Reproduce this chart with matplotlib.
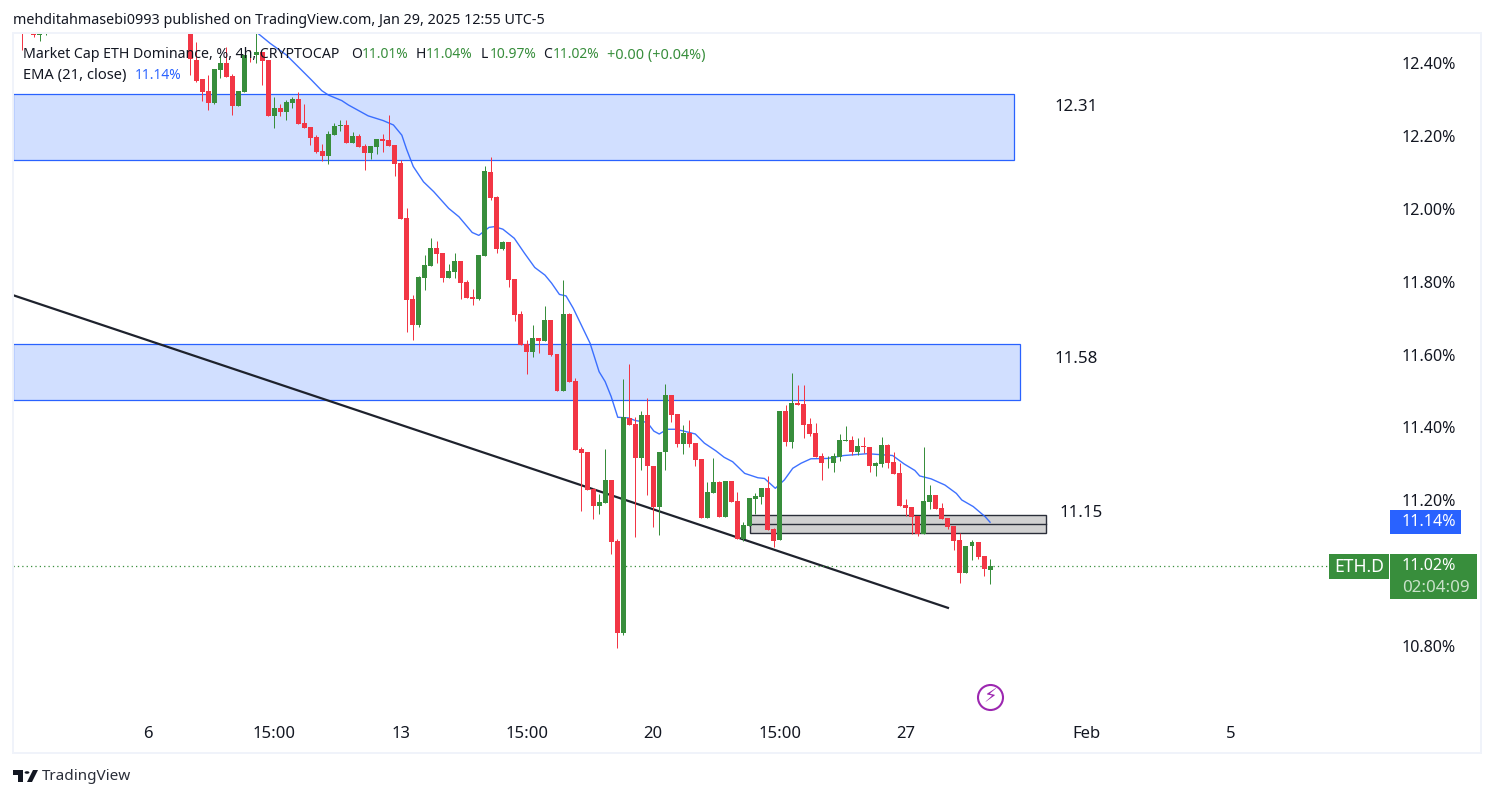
"""ETH.D 4h chart, TradingView look: candles, EMA 21, zones and a trendline."""
import matplotlib
matplotlib.use("Agg")
import matplotlib.pyplot as plt
from matplotlib.patches import Circle, Polygon, Rectangle
import numpy as np

W, H = 1494, 798
FONT = "Noto Sans"
TXT = "#131722"
RED, GREEN, BLUE = "#f23645", "#388e3c", "#2962ff"
ZONE = "#d1dfff"

# bar number: 0 is Jan 6 00:00, six 4h bars per day
BARS = [-21, -19, -18, -17] + list(range(7, 141))
OPEN = [12.52, 12.483, 12.478, 12.49,
        12.55, 12.408, 12.356, 12.323, 12.290, 12.382, 12.400, 12.364, 12.282, 12.320,
        12.426, 12.422, 12.430, 12.408, 12.255, 12.277, 12.266, 12.290, 12.301, 12.235,
        12.224, 12.197, 12.159, 12.145, 12.202, 12.227, 12.230, 12.180, 12.200, 12.172,
        12.153, 12.170, 12.191, 12.189, 12.175, 12.126, 11.975, 11.753, 11.681, 11.810,
        11.843, 11.892, 11.879, 11.810, 11.827, 11.857, 11.799, 11.758, 11.753, 11.871,
        12.101, 12.032, 11.890, 11.909, 11.807, 11.711, 11.629, 11.607, 11.646, 11.637,
        11.695, 11.602, 11.500, 11.711, 11.528, 11.341, 11.333, 11.231, 11.185, 11.193,
        11.256, 11.089, 10.836, 11.426, 11.410, 11.316, 11.434, 11.294, 11.182, 11.333,
        11.489, 11.437, 11.355, 11.385, 11.358, 11.314, 11.152, 11.220, 11.251, 11.154,
        11.253, 11.198, 11.094, 11.130, 11.204, 11.209, 11.234, 11.122, 11.091, 11.445,
        11.360, 11.467, 11.465, 11.410, 11.385, 11.322, 11.304, 11.303, 11.319, 11.363,
        11.366, 11.333, 11.349, 11.347, 11.294, 11.300, 11.352, 11.305, 11.275, 11.187,
        11.182, 11.157, 11.108, 11.196, 11.215, 11.179, 11.152, 11.130, 11.091, 11.001,
        11.075, 11.086, 11.048, 11.010]
HIGH = [12.53, 12.49, 12.49, 12.51,
        12.56, 12.457, 12.356, 12.367, 12.384, 12.422, 12.444, 12.370, 12.323, 12.422,
        12.437, 12.481, 12.430, 12.408, 12.307, 12.288, 12.298, 12.307, 12.320, 12.288,
        12.224, 12.202, 12.178, 12.213, 12.235, 12.244, 12.244, 12.211, 12.205, 12.178,
        12.172, 12.191, 12.205, 12.257, 12.175, 12.134, 12.002, 11.764, 11.816, 11.873,
        11.920, 11.912, 11.879, 11.849, 11.879, 11.857, 11.805, 11.780, 11.873, 12.117,
        12.142, 12.035, 11.912, 11.909, 11.807, 11.720, 11.640, 11.681, 11.646, 11.733,
        11.695, 11.602, 11.805, 11.714, 11.535, 11.347, 11.333, 11.234, 11.218, 11.341,
        11.256, 11.094, 11.533, 11.574, 11.429, 11.445, 11.481, 11.294, 11.333, 11.519,
        11.489, 11.437, 11.407, 11.421, 11.358, 11.314, 11.251, 11.316, 11.253, 11.253,
        11.253, 11.223, 11.141, 11.207, 11.220, 11.234, 11.267, 11.124, 11.445, 11.462,
        11.550, 11.517, 11.517, 11.426, 11.412, 11.330, 11.322, 11.330, 11.382, 11.404,
        11.377, 11.371, 11.374, 11.347, 11.305, 11.374, 11.355, 11.333, 11.303, 11.204,
        11.182, 11.157, 11.347, 11.242, 11.215, 11.193, 11.152, 11.130, 11.111, 11.075,
        11.091, 11.086, 11.048, 11.040]
LOW = [12.436, 12.472, 12.460, 12.477,
       12.367, 12.349, 12.296, 12.271, 12.288, 12.360, 12.362, 12.257, 12.282, 12.320,
       12.402, 12.401, 12.340, 12.255, 12.222, 12.255, 12.244, 12.277, 12.233, 12.222,
       12.175, 12.152, 12.131, 12.123, 12.202, 12.213, 12.180, 12.180, 12.170, 12.106,
       12.137, 12.150, 12.156, 12.172, 12.091, 11.972, 11.662, 11.640, 11.676, 11.777,
       11.843, 11.851, 11.799, 11.810, 11.810, 11.753, 11.755, 11.736, 11.750, 11.871,
       12.024, 11.879, 11.887, 11.785, 11.692, 11.626, 11.547, 11.593, 11.604, 11.637,
       11.596, 11.500, 11.500, 11.525, 11.338, 11.171, 11.229, 11.149, 11.163, 11.193,
       11.053, 10.795, 10.831, 11.407, 11.100, 11.283, 11.215, 11.127, 11.105, 11.283,
       11.415, 11.347, 11.327, 11.347, 11.294, 11.152, 11.152, 11.220, 11.154, 11.154,
       11.196, 11.094, 11.089, 11.130, 11.163, 11.190, 11.119, 11.072, 11.091, 11.349,
       11.344, 11.462, 11.371, 11.377, 11.319, 11.256, 11.289, 11.278, 11.308, 11.363,
       11.325, 11.325, 11.330, 11.278, 11.267, 11.292, 11.289, 11.272, 11.185, 11.157,
       11.108, 11.102, 11.108, 11.176, 11.176, 11.149, 11.122, 11.064, 10.973, 11.001,
       11.036, 11.039, 10.993, 10.970]
CLOSE = [12.50, 12.478, 12.484, 12.50,
         12.410, 12.351, 12.321, 12.290, 12.384, 12.400, 12.362, 12.282, 12.323, 12.422,
         12.424, 12.430, 12.405, 12.255, 12.277, 12.266, 12.293, 12.302, 12.233, 12.222,
         12.194, 12.156, 12.145, 12.205, 12.227, 12.230, 12.180, 12.200, 12.170, 12.153,
         12.172, 12.191, 12.186, 12.172, 12.124, 11.972, 11.750, 11.681, 11.813, 11.846,
         11.892, 11.876, 11.810, 11.829, 11.857, 11.796, 11.755, 11.753, 11.873, 12.104,
         12.030, 11.890, 11.909, 11.805, 11.709, 11.626, 11.607, 11.646, 11.637, 11.695,
         11.599, 11.500, 11.711, 11.525, 11.338, 11.330, 11.229, 11.185, 11.196, 11.256,
         11.086, 10.836, 11.428, 11.407, 11.316, 11.434, 11.294, 11.182, 11.333, 11.489,
         11.434, 11.355, 11.385, 11.355, 11.311, 11.152, 11.223, 11.251, 11.154, 11.253,
         11.196, 11.094, 11.133, 11.207, 11.212, 11.234, 11.119, 11.089, 11.445, 11.360,
         11.467, 11.462, 11.407, 11.382, 11.319, 11.303, 11.305, 11.322, 11.366, 11.366,
         11.333, 11.349, 11.347, 11.294, 11.303, 11.352, 11.303, 11.272, 11.185, 11.179,
         11.154, 11.108, 11.198, 11.215, 11.176, 11.149, 11.127, 11.089, 11.001, 11.075,
         11.086, 11.045, 11.012, 11.020]

EMA_X = [18.3, 20.3, 23, 25.5, 27.2, 28.9, 30, 32.2, 33.3, 36.6, 39.1, 40.8, 42.2, 43,
         44.1, 45.8, 47.5, 50, 51.7, 53.9, 55, 56.7, 57.6, 59, 60.9, 62.6, 64.3, 66,
         67.1, 68.4, 69.5, 70.7, 73.5, 75, 76, 77, 78.1, 79.9, 81, 83, 84.1, 85, 86.3,
         87.7, 89.1, 91, 92.5, 94.4, 95.8, 97.2, 99.2, 101.4, 102.5, 104.3, 105.8,
         107.2, 108.6, 110.2, 113, 115.7, 119.6, 123.8, 125.7, 127.5, 128.3, 130.2,
         132.5, 134.4, 135.3, 137.2, 139.2, 140]
EMA = [12.481, 12.454, 12.422, 12.381, 12.353, 12.324, 12.312, 12.297, 12.285, 12.255,
       12.242, 12.230, 12.202, 12.163, 12.116, 12.074, 12.047, 12.001, 11.978, 11.935,
       11.927, 11.949, 11.951, 11.944, 11.919, 11.878, 11.839, 11.818, 11.796, 11.765,
       11.761, 11.727, 11.631, 11.553, 11.526, 11.485, 11.428, 11.426, 11.419, 11.414,
       11.390, 11.382, 11.395, 11.395, 11.390, 11.382, 11.357, 11.336, 11.318, 11.306,
       11.274, 11.262, 11.260, 11.233, 11.256, 11.288, 11.302, 11.314, 11.315, 11.323,
       11.328, 11.323, 11.300, 11.282, 11.267, 11.259, 11.242, 11.219, 11.201, 11.183,
       11.155, 11.140]

TREND_X = [-22.45, 133]
TREND_Y = [11.763, 10.905]
UPPER_ZONE = (12.135, 12.314)
LOWER_ZONE = (11.474, 11.628)
GRAY_ZONE = (11.110, 11.135, 11.160)
LAST_PRICE = 11.02

PRICE_TICKS = [12.40, 12.20, 12.00, 11.80, 11.60, 11.40, 11.20, 10.80]
TIME_TICKS = [0, 21, 42, 63, 84, 105, 126, 156, 180]
TIME_LABELS = ["6", "15:00", "13", "15:00", "20", "15:00", "27", "Feb", "5"]


def fx(x):
    return x / W


def fy(y):
    return 1 - y / H


def label(fig, x, y, s, color=TXT, size=10, **kw):
    fig.text(fx(x), fy(y), s, color=color, fontsize=size, family=FONT,
             va="center", **kw)


def box(fig, x0, y0, x1, y1, color):
    fig.patches.append(Rectangle((fx(x0), fy(y1)), fx(x1 - x0), (y1 - y0) / H,
                                 transform=fig.transFigure, facecolor=color,
                                 edgecolor="none", zorder=3))


def main():
    fig = plt.figure(figsize=(W / 100, H / 100), dpi=100, facecolor="white")
    # plot pane, its frame is drawn on the figure
    fig.patches.append(Rectangle((fx(13), fy(753)), fx(1468), 720 / H,
                                 transform=fig.transFigure, facecolor="none",
                                 edgecolor="#f0f3fa", lw=1.4))
    ax = fig.add_axes([fx(13), fy(715), fx(1377), (715 - 34) / H])
    ax.set_xlim(-22.45, 206.5)
    ax.set_ylim(10.611, 12.4796)
    for s in ax.spines.values():
        s.set_visible(False)
    ax.patch.set_alpha(0)

    o, h, l, c = map(np.array, (OPEN, HIGH, LOW, CLOSE))
    colors = np.where(c >= o, GREEN, RED)

    # zones and drawings under the candles
    left = ax.get_xlim()[0]
    for (lo, hi), right in zip((UPPER_ZONE, LOWER_ZONE), (144, 145)):
        ax.add_patch(Rectangle((left, lo), right - left, hi - lo, facecolor=ZONE,
                               edgecolor=BLUE, lw=0.9, zorder=1))
    g0, g1, g2 = GRAY_ZONE
    ax.add_patch(Rectangle((100.1, g0), 49.2, g2 - g0, facecolor="#d1d1d1",
                           edgecolor="#2a2e39", lw=1.0, zorder=1))
    ax.plot([100.1, 149.3], [g1, g1], color="#2a2e39", lw=1.0, zorder=1.1)
    ax.plot(TREND_X, TREND_Y, color="#1e222d", lw=1.6, zorder=1.2)
    ax.plot(EMA_X, EMA, color=BLUE, lw=1.0, alpha=0.9, zorder=1.3)
    ax.plot([left, 196.4], [LAST_PRICE, LAST_PRICE], color=GREEN, lw=0.9,
            ls=(0, (1, 2.5)), zorder=1.4)

    wicks = ax.vlines(BARS, l, h, colors=colors, lw=0.72, zorder=2)
    wicks.set_snap(True)
    ax.bar(BARS, np.abs(c - o), bottom=np.minimum(o, c), width=0.83, color=colors,
           lw=0, zorder=2.1)

    ax.yaxis.tick_right()
    ax.set_yticks(PRICE_TICKS, [f"{p:.2f}%" for p in PRICE_TICKS])
    ax.set_xticks(TIME_TICKS, TIME_LABELS)
    ax.tick_params(axis="y", length=0, pad=8.6, labelsize=11.6, labelcolor=TXT)
    ax.tick_params(axis="x", length=0, pad=8.0, labelsize=12, labelcolor=TXT)
    for t in ax.get_xticklabels() + ax.get_yticklabels():
        t.set_family(FONT)

    # levels written on the chart
    for x, y, s in ((150.65, 12.279, "12.31"), (150.65, 11.587, "11.58"),
                    (151.6, 11.166, "11.15")):
        ax.text(x, y, s, color=TXT, fontsize=12.2, family=FONT, va="center")

    # lightning badge
    ax.plot([140], [10.661], "o", ms=18, mfc="white", mec="#9c27b0", mew=1.5, zorder=3)
    ax.text(140, 10.661, "\u26a1", color="#9c27b0", fontsize=14, family="DejaVu Sans",
            ha="center", va="center", zorder=4)

    # header and legend lines
    label(fig, 13, 20.5, "mehditahmasebi0993 published on TradingView.com, "
          "Jan 29, 2025 12:55 UTC-5", size=10.3)
    label(fig, 23, 55, "Market Cap ETH Dominance, %, 4h, CRYPTOCAP", size=10.2)
    for x, s, col, size in ((351, "O", TXT, 10), (362, "11.01%", GREEN, 10),
                            (416, "H", TXT, 10), (426, "11.04%", GREEN, 10),
                            (481, "L", TXT, 10), (490, "10.97%", GREEN, 10),
                            (543, "C", TXT, 10), (553, "11.02%", GREEN, 10),
                            (607, "+0.00 (+0.04%)", GREEN, 10.4)):
        label(fig, x, 55, s, color=col, size=size)
    label(fig, 23, 75.5, "EMA (21, close)", size=10.6)
    label(fig, 135, 75.5, "11.14%", color=BLUE, size=10)

    # price scale labels
    box(fig, 1390, 510, 1461, 534, BLUE)
    label(fig, 1402, 522.5, "11.14%", color="white", size=11.6, zorder=4)
    box(fig, 1329, 554, 1389, 579, GREEN)
    label(fig, 1334, 567.5, "ETH.D", color="white", size=12.6, zorder=4)
    box(fig, 1390, 554, 1477, 599, GREEN)
    label(fig, 1402, 566.5, "11.02%", color="white", size=11.6, zorder=4)
    label(fig, 1402, 587.5, "02:04:09", color="#c8e1c9", size=12.2, zorder=4)

    # TradingView mark
    def mark(points):
        fig.patches.append(Polygon([(fx(x), fy(y)) for x, y in points], closed=True,
                                   transform=fig.transFigure, facecolor="#131722",
                                   edgecolor="none"))
    mark([(13, 770), (23, 770), (23, 782), (18, 782), (18, 775), (13, 775)])
    mark([(33, 770), (38, 770), (32, 782), (27, 782)])
    fig.patches.append(Circle((fx(27), fy(772.5)), 2.4 / W, transform=fig.transFigure,
                              facecolor="#131722", edgecolor="none"))
    label(fig, 42, 777, "TradingView", color="#2a2e39", size=11)

    fig.savefig("out.png", dpi=100)


if __name__ == "__main__":
    main()
